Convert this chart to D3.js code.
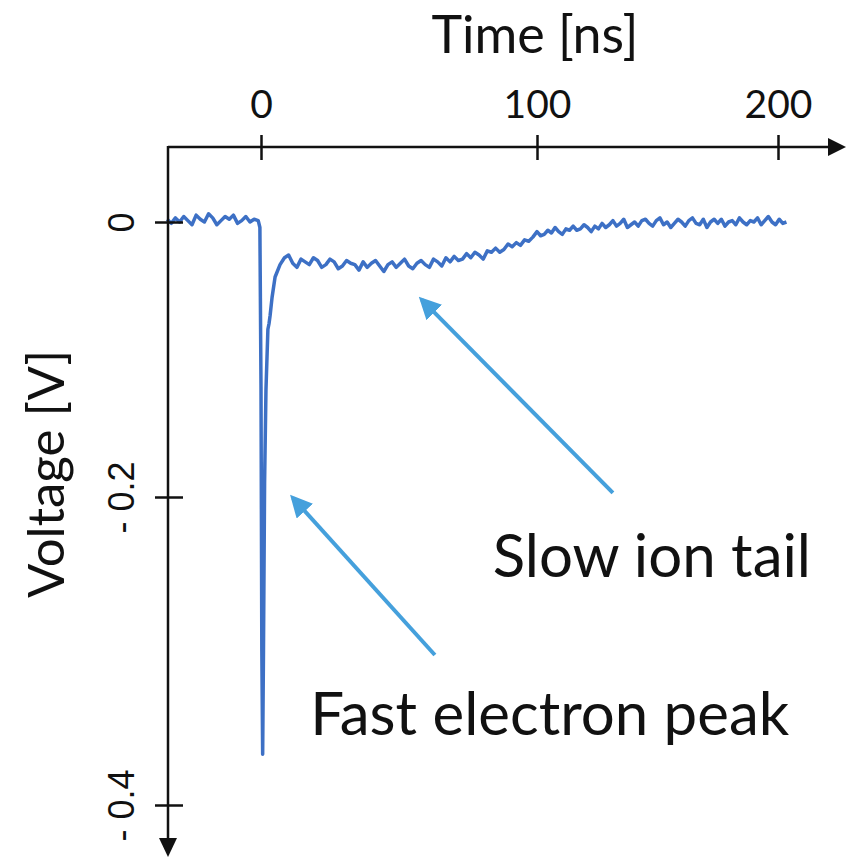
<!DOCTYPE html>
<html>
<head>
<meta charset="utf-8">
<script src="https://cdn.jsdelivr.net/npm/d3@7"></script>
<style>
  body { margin: 0; background: #fff; }
  svg { display: block; }
</style>
</head>
<body>
<svg id="chart" width="848" height="858"></svg>
<script>
// signal: time in ns, voltage in V
var timeNs = [
  -34, -32.5, -31, -29.5, -28, -26.5, -25, -23.5, -22, -20.5, -19, -17.5,
  -16, -14.5, -13, -11.5, -10, -8.5, -7, -5.5, -4, -2.5, -1,
  -0.4, 0, 0.3, 0.6, 0.9, 1.3, 1.8, 2.5, 2.9, 3.3, 4.0, 5.1, 6.9, 8.5,
  10, 11.5, 13, 14.5, 16, 17.5, 19, 20.5, 22, 23.5,
  25, 26.5, 28, 29.5, 31, 32.5, 34, 35.5, 37, 38.5,
  40, 41.5, 43, 44.5, 46, 47.5, 49, 50.5, 52, 53.5,
  55, 56.5, 58, 59.5, 61, 62.5, 64, 65.5, 67, 68.5,
  70, 71.5, 73, 74.5, 76, 77.5, 79, 80.5, 82, 83.5,
  85, 86.5, 88, 89.5, 91, 92.5, 94, 95.5, 97, 98.5,
  100, 101.5, 103, 104.5, 106, 107.5, 109, 110.5, 112, 113.5,
  115, 116.5, 118, 119.5, 121, 122.5, 124, 125.5, 127, 128.5,
  130, 131.5, 133, 134.5, 136, 137.5, 139, 140.5, 142, 143.5,
  145, 146.5, 148, 149.5, 151, 152.5, 154, 155.5, 157, 158.5,
  160, 161.5, 163, 164.5, 166, 167.5, 169, 170.5, 172, 173.5,
  175, 176.5, 178, 179.5, 181, 182.5, 184, 185.5, 187, 188.5,
  190, 191.5, 193, 194.5, 196, 197.5, 199, 200.5, 202, 203.5
];
var voltageV = [
  0.002, -0.001, 0.003, 0.000, 0.004, 0.001, -0.002, 0.005, 0.002, 0.000, 0.006, 0.003,
  -0.002, 0.001, 0.004, 0.002, 0.005, -0.001, 0.001, 0.004, 0.000, 0.002, 0.001,
  -0.004, -0.12, -0.30, -0.367, -0.30, -0.19, -0.122, -0.078, -0.074, -0.068, -0.055, -0.040, -0.031, -0.026,
  -0.024, -0.030, -0.033, -0.027, -0.029, -0.031, -0.026, -0.028, -0.033, -0.031,
  -0.027, -0.029, -0.034, -0.032, -0.028, -0.030, -0.031, -0.035, -0.029, -0.033,
  -0.030, -0.028, -0.032, -0.036, -0.031, -0.029, -0.033, -0.030, -0.027, -0.032,
  -0.034, -0.030, -0.028, -0.031, -0.033, -0.027, -0.029, -0.032, -0.026, -0.029,
  -0.025, -0.028, -0.027, -0.023, -0.026, -0.022, -0.024, -0.027, -0.021, -0.022,
  -0.019, -0.022, -0.020, -0.016, -0.018, -0.015, -0.017, -0.013, -0.014, -0.011,
  -0.007, -0.010, -0.009, -0.006, -0.008, -0.004, -0.007, -0.009, -0.005, -0.006,
  -0.003, -0.006, -0.005, -0.002, -0.004, -0.007, -0.003, -0.005, -0.001, -0.004,
  -0.002, 0.001, -0.003, -0.001, 0.002, -0.004, -0.002, 0.000, -0.003, 0.001,
  0.002, -0.001, -0.003, 0.001, 0.003, -0.002, 0.000, -0.004, -0.001, 0.002,
  0.000, -0.003, 0.001, 0.003, -0.001, -0.002, 0.002, -0.004, 0.000, 0.002,
  -0.001, 0.002, -0.003, 0.000, 0.001, -0.002, 0.003, 0.000, -0.002, 0.001,
  0.000, 0.003, -0.002, 0.001, 0.004, 0.000, -0.002, 0.002, -0.001, 0.000
];

var xTickValues = [0, 100, 200];
var xTickLabels = ["0", "100", "200"];
var yTickValues = [0, -0.2, -0.4];
var yTickLabels = ["0", "- 0.2", "- 0.4"];

var annotationLabels = ["Slow ion tail", "Fast electron peak"];

// layout (pixels) ---------------------------------------------
var axisLeftX = 168, axisTopY = 147;
var axisRightX = 846, axisBottomY = 857;

var svg = d3.select("#chart");
svg.append("rect").attr("width", 848).attr("height", 858).attr("fill", "#fff");

// the drawn axes are not evenly spaced, so use piecewise scales
var x = d3.scaleLinear().domain(xTickValues).range([261, 537, 778]);
var y = d3.scaleLinear().domain(yTickValues).range([222, 497, 805]);

// data line
var points = timeNs.map(function(t, i) { return [t, voltageV[i]]; });
var line = d3.line().x(d => x(d[0])).y(d => y(d[1]));
svg.append("path")
  .datum(points)
  .attr("d", line)
  .attr("fill", "none")
  .attr("stroke", "#3d70c5")
  .attr("stroke-width", 3.5)
  .attr("stroke-linejoin", "round");

// x axis (top)
var xAxis = svg.append("g")
  .attr("transform", `translate(0,${axisTopY})`)
  .call(d3.axisTop(x).tickValues(xTickValues).tickFormat((d, i) => xTickLabels[i]));
xAxis.select(".domain").remove();
xAxis.selectAll(".tick line")
  .attr("y1", 13).attr("y2", -12)
  .attr("stroke", "#111").attr("stroke-width", 2.5);
xAxis.selectAll(".tick text")
  .attr("y", -29)
  .attr("fill", "#111")
  .style("font-family", "Lato, sans-serif")
  .style("font-size", "39px");

svg.append("line")
  .attr("x1", axisLeftX).attr("x2", axisRightX - 14)
  .attr("y1", axisTopY).attr("y2", axisTopY)
  .attr("stroke", "#111").attr("stroke-width", 2.5);
svg.append("path")
  .attr("d", `M${axisRightX},${axisTopY} L${axisRightX - 18},${axisTopY - 9} L${axisRightX - 18},${axisTopY + 9} Z`)
  .attr("fill", "#111");

// y axis (left)
var yAxis = svg.append("g")
  .attr("transform", `translate(${axisLeftX},0)`)
  .call(d3.axisLeft(y).tickValues(yTickValues).tickFormat((d, i) => yTickLabels[i]));
yAxis.select(".domain").remove();
yAxis.selectAll(".tick line")
  .attr("x1", -13).attr("x2", 15)
  .attr("stroke", "#111").attr("stroke-width", 2.5);
yAxis.selectAll(".tick text")
  .attr("transform", "rotate(-90)")
  .attr("x", 0).attr("y", -34).attr("dy", 0)
  .attr("text-anchor", "middle")
  .attr("fill", "#111")
  .style("font-family", "'Liberation Sans', Arial, sans-serif")
  .style("font-size", "36px");

svg.append("line")
  .attr("x1", axisLeftX).attr("x2", axisLeftX)
  .attr("y1", axisTopY - 1).attr("y2", axisBottomY - 14)
  .attr("stroke", "#111").attr("stroke-width", 2.5);
svg.append("path")
  .attr("d", `M${axisLeftX},${axisBottomY} L${axisLeftX - 9},${axisBottomY - 19} L${axisLeftX + 9},${axisBottomY - 19} Z`)
  .attr("fill", "#111");

// axis titles
svg.append("text")
  .attr("x", 535).attr("y", 53)
  .attr("text-anchor", "middle")
  .style("font-family", "Lato, sans-serif")
  .style("font-size", "52px")
  .attr("fill", "#111")
  .text("Time [ns]");

svg.append("text")
  .attr("transform", "translate(64,474) rotate(-90)")
  .attr("text-anchor", "middle")
  .style("font-family", "Lato, sans-serif")
  .style("font-size", "51px")
  .attr("fill", "#111")
  .text("Voltage [V]");

// annotation arrows, given in data coordinates [t, V]
var arrowFrom = [[131.5, -0.197], [63, -0.3026]];
var arrowTo = [[58.3, -0.0567], [11.6, -0.2007]];
var labelAt = [[84, -0.252], [17.8, -0.3545]];

svg.append("defs").append("marker")
  .attr("id", "head")
  .attr("viewBox", "0 0 10 10")
  .attr("refX", 8).attr("refY", 5)
  .attr("markerWidth", 5.5).attr("markerHeight", 5.5)
  .attr("markerUnits", "strokeWidth")
  .attr("orient", "auto")
  .append("path")
  .attr("d", "M0,0 L10,5 L0,10 Z")
  .attr("fill", "#45a0dc");

annotationLabels.forEach(function(label, i) {
  svg.append("line")
    .attr("x1", x(arrowFrom[i][0])).attr("y1", y(arrowFrom[i][1]))
    .attr("x2", x(arrowTo[i][0])).attr("y2", y(arrowTo[i][1]))
    .attr("stroke", "#45a0dc")
    .attr("stroke-width", 4)
    .attr("marker-end", "url(#head)");
  svg.append("text")
    .attr("x", x(labelAt[i][0])).attr("y", y(labelAt[i][1]))
    .style("font-family", "Lato, sans-serif")
    .style("font-size", "60px")
    .attr("fill", "#111")
    .text(label);
});
</script>
</body>
</html>
